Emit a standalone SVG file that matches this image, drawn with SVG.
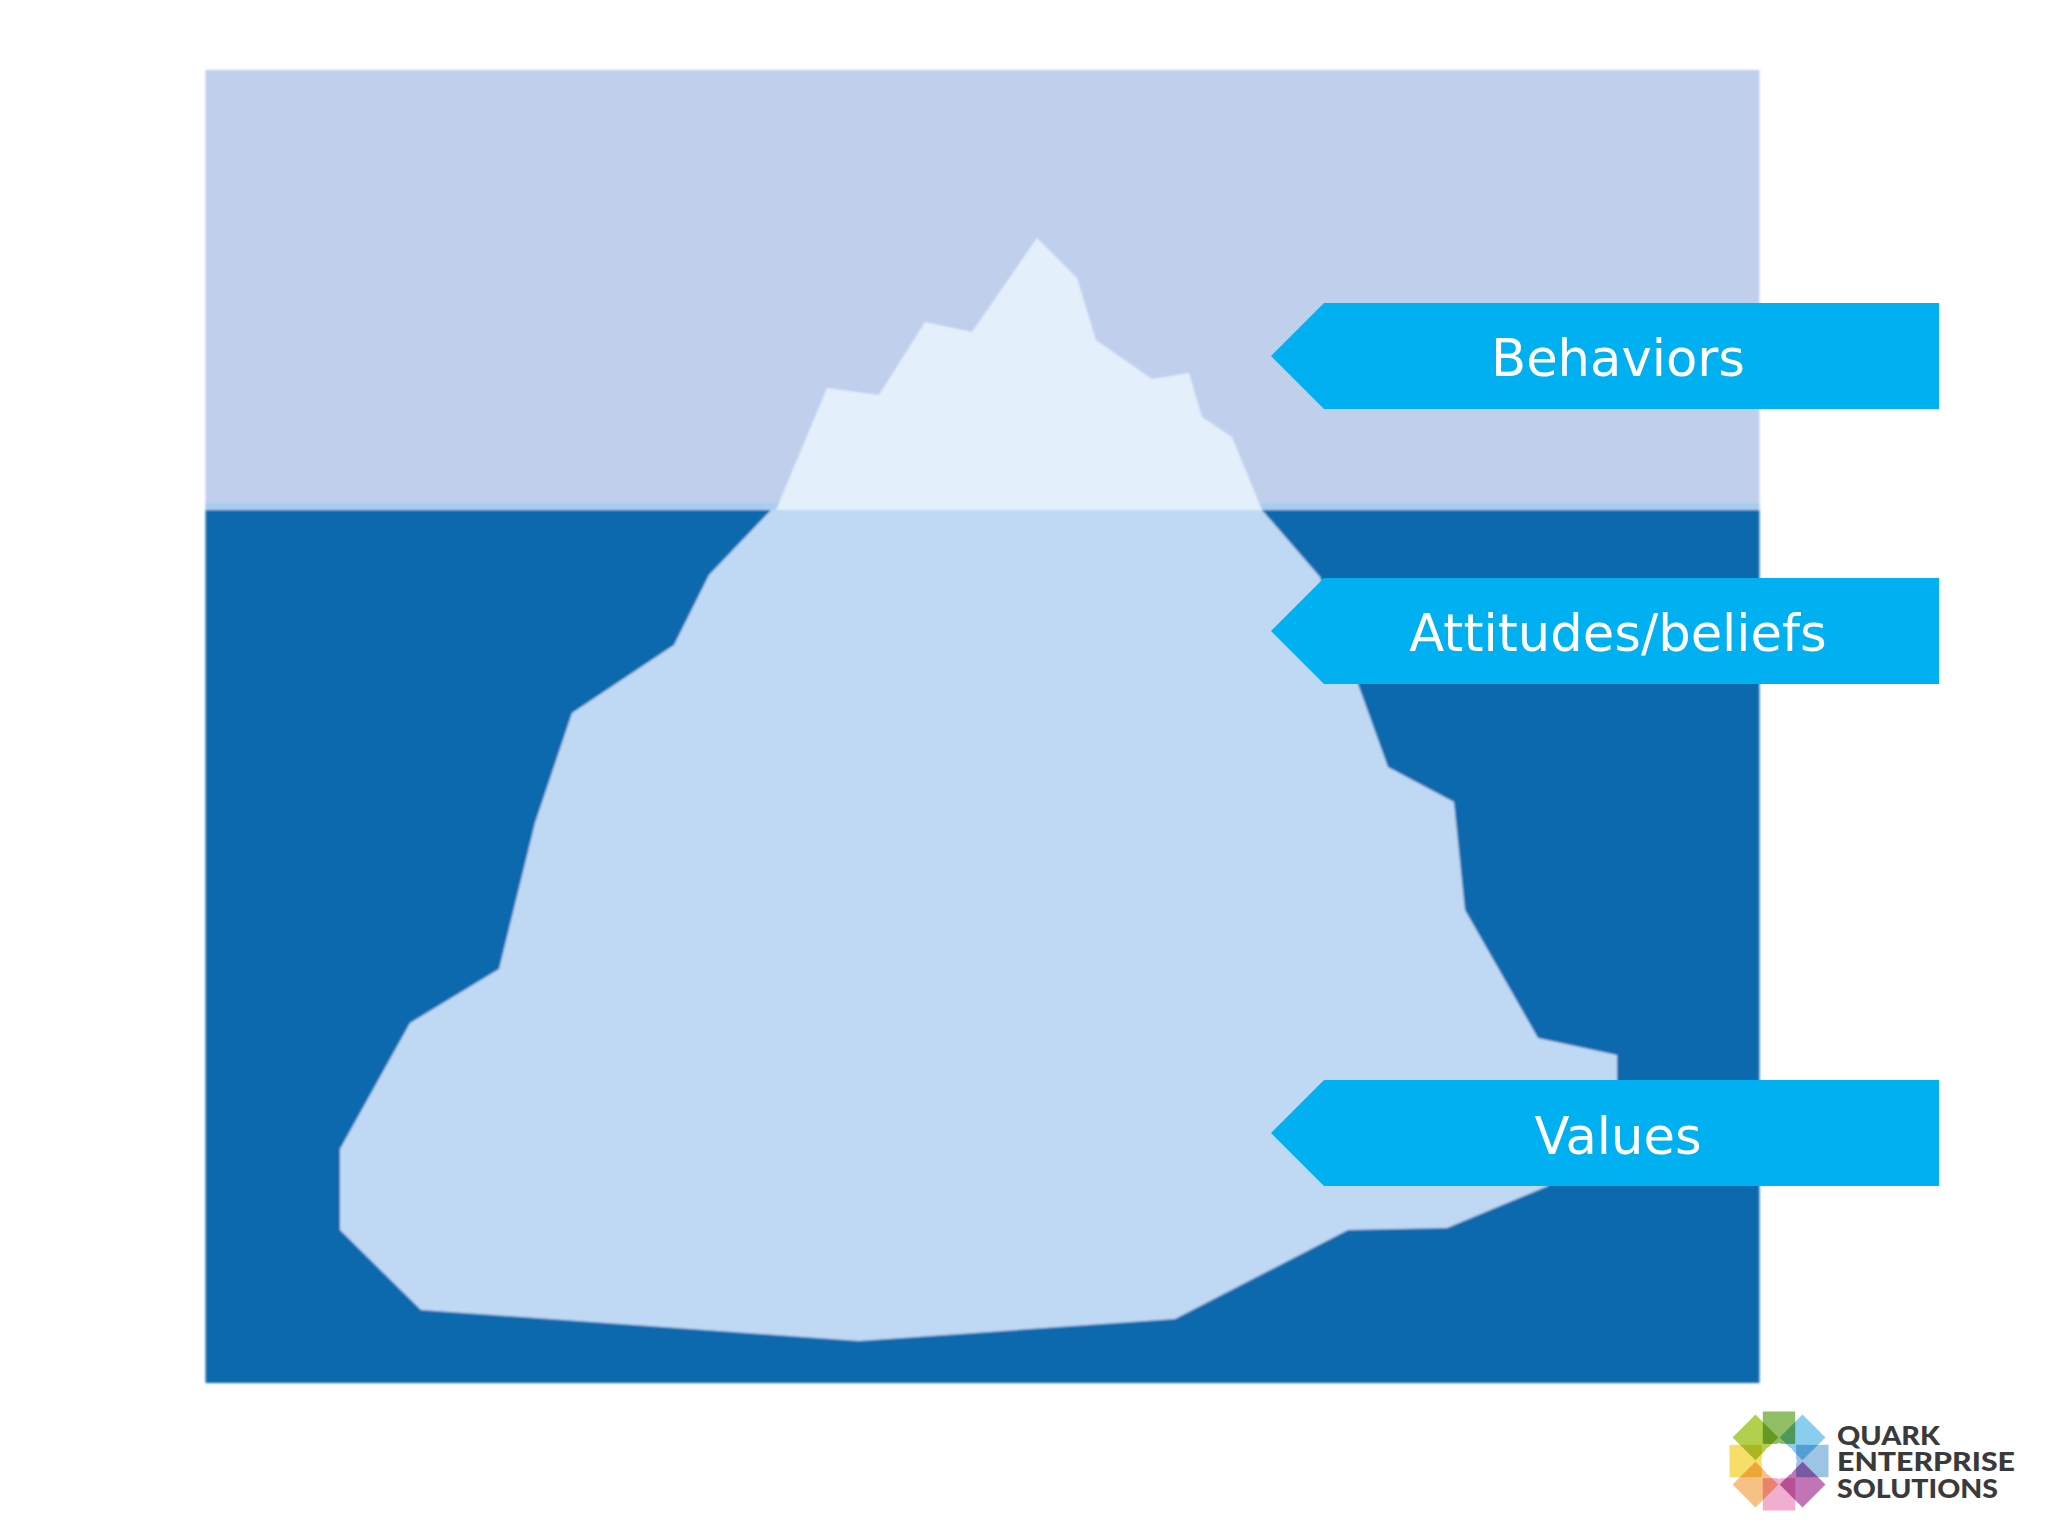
<svg xmlns="http://www.w3.org/2000/svg" width="2048" height="1536" viewBox="0 0 2048 1536">
  <style>
    .label { font-family: "DejaVu Sans", Verdana, sans-serif; font-size: 51.2px; fill: #ffffff; text-anchor: middle; }
    .arrow { fill: #00b0f0; }
    .logo-text { font-family: "Lato", "Liberation Sans", sans-serif; font-weight: 900; font-size: 26px; fill: #3a3a3c; }
    .petal { mix-blend-mode: multiply; opacity: 0.85; }
  </style>
  <defs>
    <filter id="soft" x="-2%" y="-2%" width="104%" height="104%"><feGaussianBlur stdDeviation="1.1"/></filter>
    <filter id="softer" x="-10%" y="-10%" width="120%" height="120%"><feGaussianBlur stdDeviation="0.7"/></filter>
    <polygon id="tag" class="arrow" points="1271,53 1324,0 1939,0 1939,106 1324,106"/>
  </defs>
  <rect width="2048" height="1536" fill="#ffffff"/>
  <g id="iceberg-scene" filter="url(#soft)">
    <rect id="sky" x="205.5" y="70" width="1554" height="440" fill="#bfcfec"/>
    <rect id="water" x="205.5" y="510" width="1554" height="873" fill="#0f69ae"/>
    <rect id="waterline" x="205.5" y="503" width="1554" height="7" fill="#a8cdf0"/>
    <polygon id="iceberg-above" fill="#e3f0fc" points="776,510 827,388 879,395 925,322 972,332 1037,238 1077,278 1096,340 1152,379 1189,373 1202,417 1232,437 1262,510"/>
    <polygon id="iceberg-below" fill="#bfd9f4" points="771,510 1262,510 1320,577 1358,684 1388,767 1454,802 1465,910 1538,1038 1617,1055 1617,1081 1548,1186 1447,1228 1348,1230 1175,1319 859,1341 421,1310 340,1230 340,1149 410,1023 499,969 535,823 572,713 674,645 709,575"/>
  </g>
  <g id="connectors"/>
  <g id="behaviors">
    <use href="#tag" y="303"/>
    <text class="label" x="1618" y="376">Behaviors</text>
  </g>
  <g id="attitudes-beliefs">
    <use href="#tag" y="578"/>
    <text class="label" x="1618" y="651">Attitudes/beliefs</text>
  </g>
  <g id="values">
    <use href="#tag" y="1080"/>
    <text class="label" x="1618" y="1154">Values</text>
  </g>
  <g id="logo">
    <g filter="url(#softer)" style="isolation:isolate">
      <g transform="translate(1779 1461)">
        <rect class="petal" x="-16.2" y="-49.5" width="32.4" height="32.4" fill="#7db14a"/>
        <rect class="petal" x="-16.2" y="-49.5" width="32.4" height="32.4" fill="#74c5ec" transform="rotate(45)"/>
        <rect class="petal" x="-16.2" y="-49.5" width="32.4" height="32.4" fill="#8dbadf" transform="rotate(90)"/>
        <rect class="petal" x="-16.2" y="-49.5" width="32.4" height="32.4" fill="#b85ba8" transform="rotate(135)"/>
        <rect class="petal" x="-16.2" y="-49.5" width="32.4" height="32.4" fill="#efa0c8" transform="rotate(180)"/>
        <rect class="petal" x="-16.2" y="-49.5" width="32.4" height="32.4" fill="#f6b56f" transform="rotate(225)"/>
        <rect class="petal" x="-16.2" y="-49.5" width="32.4" height="32.4" fill="#f5d94e" transform="rotate(270)"/>
        <rect class="petal" x="-16.2" y="-49.5" width="32.4" height="32.4" fill="#a5c82d" transform="rotate(315)"/>
        <polygon fill="#ffffff" points="0,-18 12.7,-12.7 18,0 12.7,12.7 0,18 -12.7,12.7 -18,0 -12.7,-12.7"/>
      </g>
    </g>
    <text class="logo-text" x="1837" y="1445" textLength="103" lengthAdjust="spacingAndGlyphs">QUARK</text>
    <text class="logo-text" x="1837" y="1471" textLength="178" lengthAdjust="spacingAndGlyphs">ENTERPRISE</text>
    <text class="logo-text" x="1837" y="1498" textLength="161" lengthAdjust="spacingAndGlyphs">SOLUTIONS</text>
  </g>
</svg>
